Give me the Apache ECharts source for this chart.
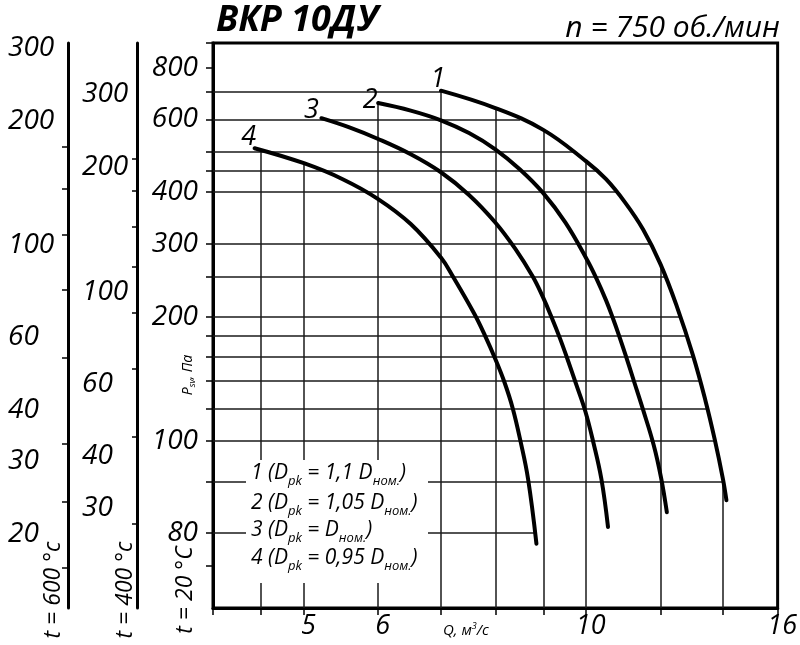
<!DOCTYPE html>
<html><head><meta charset="utf-8">
<script src="https://cdn.jsdelivr.net/npm/echarts@6/dist/echarts.min.js"></script>
<style>html,body{margin:0;padding:0;background:#fff}#c{width:800px;height:645px}</style>
</head><body><div id="c"></div>
<script>
// ---------- data ----------
const qMin = 4, qMax = 16;
const pMin = 39.5, pMax = 918;
const qTicks = [4, 4.5, 5, 6, 7, 8, 9, 10, 12, 14, 16];
const qLabels = [5, 6, 10, 16];
const qGrid = [4.5, 5, 6, 7, 8, 9, 10, 12, 14];
const p20Ticks = [918, 800, 700, 600, 500, 450, 400, 300, 250, 200, 180, 160, 140, 120, 100, 80, 60, 50];
const p20Grid = [700, 600, 500, 450, 400, 300, 250, 200, 180, 160, 140, 120, 100, 80, 60];
const p20LabelVals = [800, 600, 400, 300, 200, 100, 60];
const p20LabelTexts = ['800', '600', '400', '300', '200', '100', '80'];
const t20 = 20, t400 = 400, t600 = 600;
const p400Ticks = [210, 176, 144, 115, 89, 65, 44.6, 27.5];
const p400Labels = [300, 200, 100, 60, 40, 30];
const p600Ticks = [173, 137, 106, 78, 53.5, 33, 24, 16.6];
const p600Labels = [300, 200, 100, 60, 40, 30, 20];

const curveNames = ['1', '2', '3', '4'];
const curve1Q = [7, 8, 9, 10, 10.5, 11, 11.5, 12, 12.5, 13, 13.4, 13.71, 13.99, 14.11];
const curve1P = [704, 639, 566, 475, 430, 378, 325, 268, 211, 161, 125.5, 101, 81, 72];
const curve2Q = [6, 6.5, 7, 7.5, 8, 8.5, 9, 9.5, 10, 10.25, 10.5, 10.68, 10.84, 11.02, 11.24, 11.5, 11.8, 12.02, 12.19];
const curve2P = [657, 630, 597, 556, 508, 454, 398, 338, 277, 248, 219, 198, 180, 161, 140, 119, 98, 81.4, 67.3];
const curve3Q = [5.22, 5.6, 6, 6.5, 7, 7.5, 8, 8.4, 8.77, 9.0, 9.18, 9.37, 9.55, 9.76, 9.98, 10.17, 10.38, 10.55];
const curve3P = [604, 573, 538, 494, 447, 394, 338, 292, 250, 222, 200, 178, 158, 137, 118, 100, 81, 62];
const curve4Q = [4.43, 5, 5.5, 6, 6.5, 7, 7.21, 7.6, 7.8, 8.0, 8.18, 8.35, 8.51, 8.67, 8.85];
const curve4P = [511, 470, 430, 385, 335, 278, 250, 203, 180, 158, 139, 120, 100, 81, 56.5];

const legendLines = [
  ['1 (D', 'pk', ' = 1,1 D', 'ном.', ')'],
  ['2 (D', 'pk', ' = 1,05 D', 'ном.', ')'],
  ['3 (D', 'pk', ' = D', 'ном.', ')'],
  ['4 (D', 'pk', ' = 0,95 D', 'ном.', ')']
];

// ---------- helpers ----------
const L = Math.log10;
const FONT = 'Open Sans';
const k400 = (273 + t20) / (273 + t400);
const k600 = (273 + t20) / (273 + t600);
const curves = [[curve1Q, curve1P], [curve2Q, curve2P], [curve3Q, curve3P], [curve4Q, curve4P]]
  .map(([q, p]) => q.map((v, i) => [L(v), L(p[i])]));

function atX(c, x) {
  if (x < c[0][0] - 1e-12 || x > c[c.length - 1][0] + 1e-12) return null;
  for (let i = 0; i < c.length - 1; i++) {
    const a = c[i], b = c[i + 1];
    if (x >= a[0] - 1e-12 && x <= b[0] + 1e-12) return a[1] + (b[1] - a[1]) * (x - a[0]) / (b[0] - a[0]);
  }
  return null;
}
function atY(c, y) {
  for (let i = 0; i < c.length - 1; i++) {
    const a = c[i], b = c[i + 1];
    if ((y <= a[1] && y >= b[1])) return a[0] + (b[0] - a[0]) * (y - a[1]) / (b[1] - a[1]);
  }
  return null;
}
const gridSegs = [];
p20Grid.forEach(p => {
  const y = L(p);
  const xs = curves.map(c => atY(c, y)).filter(v => v !== null);
  if (xs.length) gridSegs.push({ coords: [[L(qMin), y], [Math.max(...xs), y]] });
});
qGrid.forEach(q => {
  const x = L(q);
  const ys = curves.map(c => atX(c, x)).filter(v => v !== null);
  if (ys.length) gridSegs.push({ coords: [[x, L(pMin)], [x, Math.max(...ys)]] });
});

const labelOffsets = [[-3, -11], [-8, -3], [-10, -8], [-6, -11]];

const txt = { fontFamily: FONT, fontStyle: 'italic', color: '#000' };
function yAxisDef(offset, min, max, ticks, labels, fmt, opts) {
  return {
    type: 'value', position: 'left', offset: offset, min: L(min), max: L(max),
    axisLine: { show: true, onZero: false, lineStyle: { color: '#000', width: 3 } },
    axisTick: { show: true, customValues: ticks.map(L), length: opts.tickLen, lineStyle: { color: '#000', width: 1.5 } },
    axisLabel: Object.assign({ show: true, customValues: labels.map(L), formatter: fmt, fontSize: 28 }, txt, opts.label),
    splitLine: { show: false }
  };
}
const fmtRound = v => String(Math.round(Math.pow(10, v)));
const fmt20 = v => {
  const i = p20LabelVals.findIndex(p => Math.abs(L(p) - v) < 1e-6);
  return i >= 0 ? p20LabelTexts[i] : '';
};

const graphics = [];
graphics.push({ type: 'rect', z: 100, shape: { x: 246, y: 460, width: 182, height: 123 }, style: { fill: '#fff' } });
const legendY = [473, 503, 530, 558];
legendLines.forEach((parts, i) => {
  const text = parts.map((s, j) => (j % 2 ? '{s|' : '{n|') + s + '}').join('');
  graphics.push({
    type: 'text', z: 101, x: 251, y: legendY[i],
    style: {
      text: text, align: 'left', verticalAlign: 'middle',
      rich: {
        n: { fontFamily: FONT, fontStyle: 'italic', fontSize: 21, fill: '#000', lineHeight: 30, verticalAlign: 'middle' },
        s: { fontFamily: FONT, fontStyle: 'italic', fontSize: 13, fill: '#000', lineHeight: 13, verticalAlign: 'bottom' }
      }
    }
  });
});
[['t = 600 °c', 53], ['t = 400 °c', 125], ['t = 20 °C', 185]].forEach(([t, x]) => {
  graphics.push({
    type: 'text', x: x, y: 590, rotation: Math.PI / 2,
    style: { text: t, fontFamily: FONT, fontStyle: 'italic', fontSize: 23, fill: '#000', align: 'center', verticalAlign: 'middle' }
  });
});
graphics.push({
  type: 'text', x: 188, y: 375, rotation: Math.PI / 2,
  style: {
    text: '{n|P}{s|sv}{n|, Па}', align: 'center', verticalAlign: 'middle',
    rich: {
      n: { fontFamily: FONT, fontStyle: 'italic', fontSize: 14, fill: '#000', lineHeight: 18, verticalAlign: 'middle' },
      s: { fontFamily: FONT, fontStyle: 'italic', fontSize: 9, fill: '#000', lineHeight: 9, verticalAlign: 'bottom' }
    }
  }
});
graphics.push({
  type: 'text', x: 443, y: 631,
  style: {
    text: '{n|Q, м}{s|3}{n|/с}', align: 'left', verticalAlign: 'middle',
    rich: {
      n: { fontFamily: FONT, fontStyle: 'italic', fontSize: 15, fill: '#000', lineHeight: 18, verticalAlign: 'middle' },
      s: { fontFamily: FONT, fontStyle: 'italic', fontSize: 9, fill: '#000', lineHeight: 9, verticalAlign: 'top' }
    }
  }
});

const option = {
  animation: false,
  backgroundColor: '#fff',
  title: [
    { text: 'ВКР 10ДУ', left: 216, top: 3, padding: 0,
      textStyle: { fontFamily: FONT, fontStyle: 'italic', fontWeight: 'bold', fontSize: 36, color: '#000' } },
    { text: 'n = 750 об./мин', right: 20, top: 13, padding: 0,
      textStyle: { fontFamily: FONT, fontStyle: 'italic', fontWeight: 'normal', fontSize: 30, color: '#000' } }
  ],
  grid: { left: 213, right: 22, top: 43, bottom: 37, show: true, borderColor: '#000', borderWidth: 3 },
  xAxis: {
    type: 'value', min: L(qMin), max: L(qMax),
    axisLine: { show: true, onZero: false, lineStyle: { color: '#000', width: 3 } },
    axisTick: { show: true, customValues: qTicks.map(L), length: 7, lineStyle: { color: '#000', width: 1.5 } },
    axisLabel: Object.assign({ show: true, customValues: qLabels.map(L), formatter: fmtRound, fontSize: 27, margin: 5, padding: [0, 0, 0, 9] }, txt),
    splitLine: { show: false }
  },
  yAxis: [
    yAxisDef(0, pMin, pMax, p20Ticks, p20LabelVals, fmt20, { tickLen: 7, label: { margin: 15 } }),
    yAxisDef(76, pMin * k400, pMax * k400, p400Ticks, p400Labels, fmtRound, { tickLen: 5, label: { margin: 55, align: 'left' } }),
    yAxisDef(145, pMin * k600, pMax * k600, p600Ticks, p600Labels, fmtRound, { tickLen: 6, label: { margin: 60, align: 'left' } })
  ],
  series: [
    { type: 'lines', coordinateSystem: 'cartesian2d', xAxisIndex: 0, yAxisIndex: 0, z: 1, silent: true,
      lineStyle: { color: '#1a1a1a', width: 1.5, opacity: 1 }, data: gridSegs },
    ...curves.map((c, i) => ({
      type: 'line', name: curveNames[i], data: c, xAxisIndex: 0, yAxisIndex: 0, z: 3,
      smooth: 0.4, showSymbol: false, symbol: 'none',
      lineStyle: { color: '#000', width: 4, cap: 'round' }
    })),
    { type: 'scatter', xAxisIndex: 0, yAxisIndex: 0, symbolSize: 0, z: 4, silent: true,
      itemStyle: { opacity: 1 },
      data: curves.map((c, i) => ({ value: c[0], name: curveNames[i], label: { offset: labelOffsets[i] } })),
      label: Object.assign({ show: true, position: 'inside', formatter: p => p.name, fontSize: 27, opacity: 1 }, txt) }
  ],
  graphic: graphics
};
const chart = echarts.init(document.getElementById('c'), null, { renderer: 'canvas' });
chart.setOption(option);
</script></body></html>
